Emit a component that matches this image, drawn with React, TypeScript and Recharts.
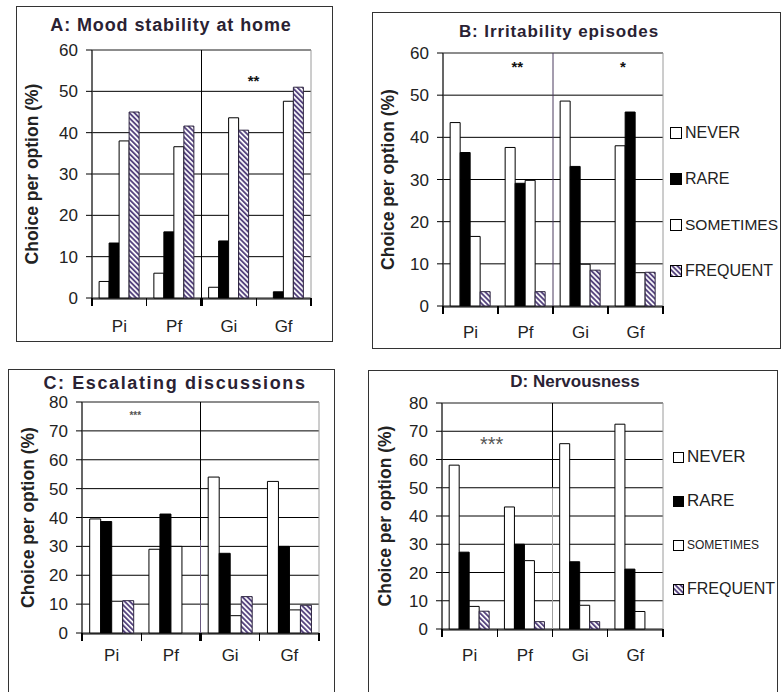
import React from 'react';
import {
  BarChart,
  Bar,
  XAxis,
  YAxis,
  CartesianGrid,
  ReferenceLine,
  ReferenceArea,
  ReferenceDot,
} from 'recharts';

// groups on the x axis
const categories = ['Pi', 'Pf', 'Gi', 'Gf'];
const legendLabels = ['NEVER', 'RARE', 'SOMETIMES', 'FREQUENT'];
// tick marks sit between the groups (Excel style)
const groupEdges = [0, 1, 2, 3, 4];

// A: Mood stability at home
const moodNever = [4, 6, 2.6, 0];
const moodRare = [13.3, 16, 13.8, 1.5];
const moodSometimes = [38, 36.6, 43.6, 47.6];
const moodFrequent = [45, 41.6, 40.6, 51];
const moodTicks = [0, 10, 20, 30, 40, 50, 60];
const moodStars = [{ x: 2.95, y: 52.6, text: '**' }];

// B: Irritability episodes
const irrNever = [43.5, 37.6, 48.6, 38];
const irrRare = [36.4, 29.1, 33.1, 46];
const irrSometimes = [16.5, 29.8, 9.9, 7.9];
const irrFrequent = [3.4, 3.4, 8.5, 8];
const irrTicks = [0, 10, 20, 30, 40, 50, 60];
const irrStars = [
  { x: 1.35, y: 56.8, text: '**' },
  { x: 3.27, y: 56.8, text: '*' },
];

// C: Escalating discussions
const escNever = [39.5, 29, 54, 52.5];
const escRare = [38.6, 41.2, 27.6, 30];
const escSometimes = [11, 30, 6, 8];
const escFrequent = [11.2, 0, 12.6, 9.6];
const escTicks = [0, 10, 20, 30, 40, 50, 60, 70, 80];
const escStars = [{ x: 0.9, y: 75.5, text: '***' }];

// D: Nervousness
const nervNever = [58, 43.2, 65.6, 72.5];
const nervRare = [27.2, 30, 23.8, 21.2];
const nervSometimes = [8, 24.2, 8.4, 6.2];
const nervFrequent = [6.3, 2.6, 2.6, 0];
const nervTicks = [0, 10, 20, 30, 40, 50, 60, 70, 80];
const nervStars = [{ x: 0.9, y: 65.5, text: '***' }];

const FONT = '"Liberation Sans", Arial, Helvetica, sans-serif';
const INK = '#222';

const makeRows = (never: number[], rare: number[], sometimes: number[], frequent: number[]) =>
  categories.map((group, i) => ({
    group,
    pos: i + 0.5,
    never: never[i],
    rare: rare[i],
    sometimes: sometimes[i],
    frequent: frequent[i],
  }));

const HatchPattern = ({ id }: { id: string }) => (
  <pattern id={id} patternUnits="userSpaceOnUse" width="3.6" height="3.6" patternTransform="rotate(-45)">
    <rect width="3.6" height="3.6" fill="#fff" />
    <line x1="0.9" y1="0" x2="0.9" y2="3.6" stroke="#56447f" strokeWidth="2" />
  </pattern>
);

// x axis tick marks at the group boundaries; y arrives as baseline + tickSize + tickMargin
const EdgeTick = (props: any) => {
  const { x, y, payload, strong } = props;
  return (
    <g>
      <line
        x1={x}
        x2={x}
        y1={y - 9}
        y2={y - 1}
        stroke="#000"
        strokeWidth={payload.value === 2 && strong ? 2.5 : 1.2}
        shapeRendering="crispEdges"
      />
    </g>
  );
};

const LegendBox = ({ id, left, top, rowHeight, fontSizes, box, width }: any) => (
  <div
    style={{
      position: 'absolute',
      left,
      top,
      width,
      overflow: 'hidden',
      display: 'flex',
      flexDirection: 'column',
      fontFamily: FONT,
    }}
  >
    {legendLabels.map((label, i) => (
      <div
        key={label}
        style={{
          height: rowHeight,
          display: 'flex',
          alignItems: 'center',
          whiteSpace: 'nowrap',
          fontSize: fontSizes[i],
          color: INK,
        }}
      >
        <svg width={box + 1} height={box + 1} style={{ marginRight: 3, flex: 'none' }}>
          <defs>
            <HatchPattern id={`lg-${id}`} />
          </defs>
          <rect
            x={0.5}
            y={0.5}
            width={box}
            height={box}
            fill={i === 1 ? '#000' : i === 3 ? `url(#lg-${id})` : '#fff'}
            stroke="#000"
          />
        </svg>
        {label}
      </div>
    ))}
  </div>
);

interface PanelProps {
  id: string;
  title: string;
  titleFont: { size: number; spacing: number };
  rows: any[];
  ticks: number[];
  stars: { x: number; y: number; text: string }[];
  box: { left: number; top: number; width: number; height: number; closed: boolean };
  plot: { left: number; top: number; right: number; bottom: number };
  labelCenter: number;
  xLabelGap: number;
  titlePos: { cx: number; cy: number };
  starStyle: { fontSize: number; fontWeight: string; fill: string };
  splits: { from: number; to: number; color: string }[];
  thickTick: boolean;
  legend?: { left: number; top: number; rowHeight: number; fontSizes: number[]; box: number; width: number };
}

const Panel: React.FC<PanelProps> = (p) => {
  const yMax = p.ticks[p.ticks.length - 1];
  const hatchId = `hatch-${p.id}`;
  const margin = {
    top: p.plot.top,
    right: p.box.width - p.plot.right,
    bottom: p.box.height - p.plot.bottom - 2,
    left: 0,
  };
  return (
    <>
      <div
        style={{
          position: 'absolute',
          left: p.box.left,
          top: p.box.top,
          width: p.box.width,
          height: p.box.height,
          boxSizing: 'border-box',
          border: '1px solid #333',
          borderBottom: p.box.closed ? '1px solid #333' : 'none',
        }}
      />
      <div
        style={{
          position: 'absolute',
          left: p.box.left + p.titlePos.cx - 200,
          top: p.box.top + p.titlePos.cy - 10,
          width: 400,
          lineHeight: '20px',
          textAlign: 'center',
          fontWeight: 'bold',
          fontSize: p.titleFont.size,
          letterSpacing: p.titleFont.spacing,
          color: '#2a2233',
          whiteSpace: 'nowrap',
        }}
      >
        {p.title}
      </div>
      <div style={{ position: 'absolute', left: p.box.left, top: p.box.top }}>
        <BarChart
          width={p.box.width}
          height={p.box.height}
          data={p.rows}
          margin={margin}
          barCategoryGap="13%"
          barGap={0}
        >
          <defs>
            <HatchPattern id={hatchId} />
          </defs>
          <CartesianGrid xAxisId="num" vertical={false} stroke="#000" />
          <XAxis
            xAxisId="num"
            dataKey="pos"
            type="number"
            domain={[0, 4]}
            ticks={groupEdges}
            interval={0}
            allowDataOverflow
            height={1}
            axisLine={{ stroke: '#000' }}
            tickLine={false}
            tickSize={6}
            tickMargin={2}
            tick={<EdgeTick strong={p.thickTick} />}
          />
          <XAxis
            xAxisId="cat"
            dataKey="group"
            interval={0}
            tickLine={false}
            axisLine={false}
            tickSize={0}
            tickMargin={p.xLabelGap}
            height={1}
            tick={{ fill: INK, fontSize: 17 }}
          />
          <YAxis
            domain={[0, yMax]}
            ticks={p.ticks}
            interval={0}
            width={p.plot.left}
            tickSize={6}
            tickMargin={8}
            axisLine={{ stroke: '#000' }}
            tickLine={{ stroke: '#000' }}
            tick={{ fill: INK, fontSize: 17 }}
            label={{
              value: 'Choice per option (%)',
              angle: -90,
              position: 'insideLeft',
              offset: p.labelCenter,
              style: { textAnchor: 'middle', fontWeight: 'bold', fontSize: 17.5, fill: INK },
            }}
          />
          <ReferenceArea xAxisId="num" x1={0} x2={4} y1={0} y2={yMax} fill="none" stroke="#9a9a9a" />
          <Bar xAxisId="cat" dataKey="never" fill="#fff" stroke="#000" isAnimationActive={false} />
          <Bar xAxisId="cat" dataKey="rare" fill="#000" stroke="#000" isAnimationActive={false} />
          <Bar xAxisId="cat" dataKey="sometimes" fill="#fff" stroke="#000" isAnimationActive={false} />
          <Bar xAxisId="cat" dataKey="frequent" fill={`url(#${hatchId})`} stroke="#2e2540" isAnimationActive={false} />
          {p.splits.map((s, i) => (
            <ReferenceLine
              key={`split-${i}`}
              xAxisId="num"
              segment={[
                { x: 2, y: s.from },
                { x: 2, y: s.to },
              ]}
              stroke={s.color}
            />
          ))}
          {p.stars.map((s, i) => (
            <ReferenceDot
              key={`star-${i}`}
              xAxisId="num"
              x={s.x}
              y={s.y}
              r={1}
              fill="none"
              stroke="none"
              label={{ value: s.text, position: 'center', ...p.starStyle }}
            />
          ))}
        </BarChart>
      </div>
      {p.legend && (
        <LegendBox
          id={p.id}
          left={p.box.left + p.legend.left}
          top={p.box.top + p.legend.top}
          rowHeight={p.legend.rowHeight}
          fontSizes={p.legend.fontSizes}
          box={p.legend.box}
          width={p.legend.width}
        />
      )}
    </>
  );
};

export default function App() {
  return (
    <div
      style={{
        position: 'absolute',
        left: 0,
        top: 0,
        width: 782,
        height: 692,
        background: '#fff',
        overflow: 'hidden',
        fontFamily: FONT,
      }}
    >
      <Panel
        id="A"
        title="A: Mood stability at home"
        titleFont={{ size: 18, spacing: 0.9 }}
        rows={makeRows(moodNever, moodRare, moodSometimes, moodFrequent)}
        ticks={moodTicks}
        stars={moodStars}
        box={{ left: 16, top: 6, width: 317, height: 336, closed: true }}
        plot={{ left: 76, top: 44, right: 295, bottom: 292 }}
        labelCenter={16}
        xLabelGap={22}
        titlePos={{ cx: 155, cy: 19 }}
        starStyle={{ fontSize: 15, fontWeight: 'bold', fill: '#111' }}
        splits={[{ from: 0, to: 60, color: '#000' }]}
        thickTick
      />
      <Panel
        id="B"
        title="B: Irritability episodes"
        titleFont={{ size: 17, spacing: 0.9 }}
        rows={makeRows(irrNever, irrRare, irrSometimes, irrFrequent)}
        ticks={irrTicks}
        stars={irrStars}
        box={{ left: 372, top: 12, width: 409, height: 337, closed: true }}
        plot={{ left: 71, top: 41, right: 291, bottom: 294 }}
        labelCenter={16}
        xLabelGap={20}
        titlePos={{ cx: 187, cy: 20 }}
        starStyle={{ fontSize: 15, fontWeight: 'bold', fill: '#111' }}
        splits={[{ from: 0, to: 60, color: '#4a3a5e' }]}
        thickTick={false}
        legend={{ left: 298, top: 98, rowHeight: 46, fontSizes: [16, 16, 15.5, 16], box: 11, width: 110 }}
      />
      <Panel
        id="C"
        title="C: Escalating discussions"
        titleFont={{ size: 18, spacing: 1.6 }}
        rows={makeRows(escNever, escRare, escSometimes, escFrequent)}
        ticks={escTicks}
        stars={escStars}
        box={{ left: 8, top: 369, width: 327, height: 330, closed: false }}
        plot={{ left: 74, top: 33, right: 311, bottom: 264 }}
        labelCenter={20}
        xLabelGap={16}
        titlePos={{ cx: 167, cy: 14 }}
        starStyle={{ fontSize: 10, fontWeight: 'bold', fill: '#555' }}
        splits={[
          { from: 32, to: 80, color: '#000' },
          { from: 0, to: 32, color: '#6a5a80' },
        ]}
        thickTick
      />
      <Panel
        id="D"
        title="D: Nervousness"
        titleFont={{ size: 17, spacing: 0 }}
        rows={makeRows(nervNever, nervRare, nervSometimes, nervFrequent)}
        ticks={nervTicks}
        stars={nervStars}
        box={{ left: 368, top: 370, width: 410, height: 330, closed: false }}
        plot={{ left: 74, top: 33, right: 295, bottom: 259 }}
        labelCenter={17}
        xLabelGap={20}
        titlePos={{ cx: 207, cy: 12 }}
        starStyle={{ fontSize: 20, fontWeight: 'normal', fill: '#555' }}
        splits={[
          { from: 50, to: 80, color: '#000' },
          { from: 0, to: 50, color: '#a0a0a0' },
        ]}
        thickTick={false}
        legend={{ left: 305, top: 65, rowHeight: 44, fontSizes: [17, 17, 12, 16], box: 10, width: 108 }}
      />
    </div>
  );
}
